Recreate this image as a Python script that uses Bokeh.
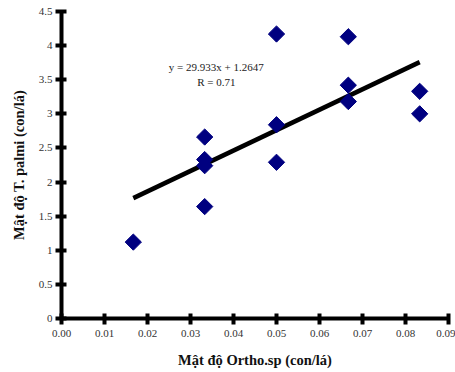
from bokeh.plotting import figure
from bokeh.models import Range1d, FixedTicker
from bokeh.core.properties import value
from bokeh.embed import file_html
from bokeh.resources import INLINE
import math

# Data
orth_x = [0.0167, 0.0333, 0.0333, 0.0333, 0.0333, 0.05, 0.05, 0.05,
          0.0667, 0.0667, 0.0667, 0.0833, 0.0833]
palmi_y = [1.12, 2.66, 2.33, 2.24, 1.64, 4.17, 2.84, 2.29,
           4.13, 3.42, 3.18, 3.33, 3.00]

slope = 29.933
intercept = 1.2647
eq_text = ["y = 29.933x + 1.2647", "R = 0.71"]

x_ticks = [0.0, 0.01, 0.02, 0.03, 0.04, 0.05, 0.06, 0.07, 0.08, 0.09]
x_tick_labels = ["0.00", "0.01", "0.02", "0.03", "0.04", "0.05", "0.06", "0.07", "0.08", "0.09"]
y_ticks = [0, 0.5, 1, 1.5, 2, 2.5, 3, 3.5, 4, 4.5]
y_tick_labels = ["0", "0.5", "1", "1.5", "2", "2.5", "3", "3.5", "4", "4.5"]

x_title = "Mật độ Ortho.sp (con/lá)"
y_title = "Mật độ T. palmi (con/lá)"

FONT = "Liberation Serif"

p = figure(width=455, height=372, output_backend="svg", toolbar_location=None,
           x_range=Range1d(0, 0.09), y_range=Range1d(0, 4.5),
           min_border_left=61, min_border_right=7, min_border_top=11, min_border_bottom=54)
p.outline_line_color = None
p.grid.visible = False
p.background_fill_color = "white"
p.border_fill_color = "white"

for ax, ticks, labels in ((p.xaxis[0], x_ticks, x_tick_labels), (p.yaxis[0], y_ticks, y_tick_labels)):
    ax.ticker = FixedTicker(ticks=ticks)
    ax.major_label_overrides = {t: l for t, l in zip(ticks, labels)}
    ax.axis_line_width = 4
    ax.axis_line_color = "black"
    ax.major_tick_line_width = 4
    ax.major_tick_line_color = "black"
    ax.major_tick_in = 5
    ax.major_tick_out = 6
    ax.minor_tick_line_color = None
    ax.major_label_text_font = FONT
    ax.major_label_text_font_size = "11px"
    ax.major_label_text_color = "#333333"
    ax.axis_label_text_font = FONT
    ax.axis_label_text_font_size = "14.5px"
    ax.axis_label_text_font_style = "bold"
    ax.axis_label_text_color = "#111111"

p.xaxis[0].axis_label = x_title
p.yaxis[0].axis_label = y_title
p.xaxis[0].major_label_standoff = 5
p.yaxis[0].major_label_standoff = 3
p.xaxis[0].axis_label_standoff = 12
p.yaxis[0].axis_label_standoff = 9

# trend line from regression coefficients over data extent
lx = [min(orth_x), max(orth_x)]
ly = [slope * v + intercept for v in lx]
p.line(lx, ly, line_color="black", line_width=4.5)

p.scatter(orth_x, palmi_y, marker="square", size=11.5, angle=math.pi / 4,
          fill_color="#000080", line_color="#000080")

p.text(x=[0.036, 0.036], y=[3.68, 3.47], text=eq_text,
       text_font=value(FONT), text_font_size="11px", text_color="#222222",
       text_align="center", text_baseline="middle")

open("out.html", "w").write(file_html(p, INLINE))
